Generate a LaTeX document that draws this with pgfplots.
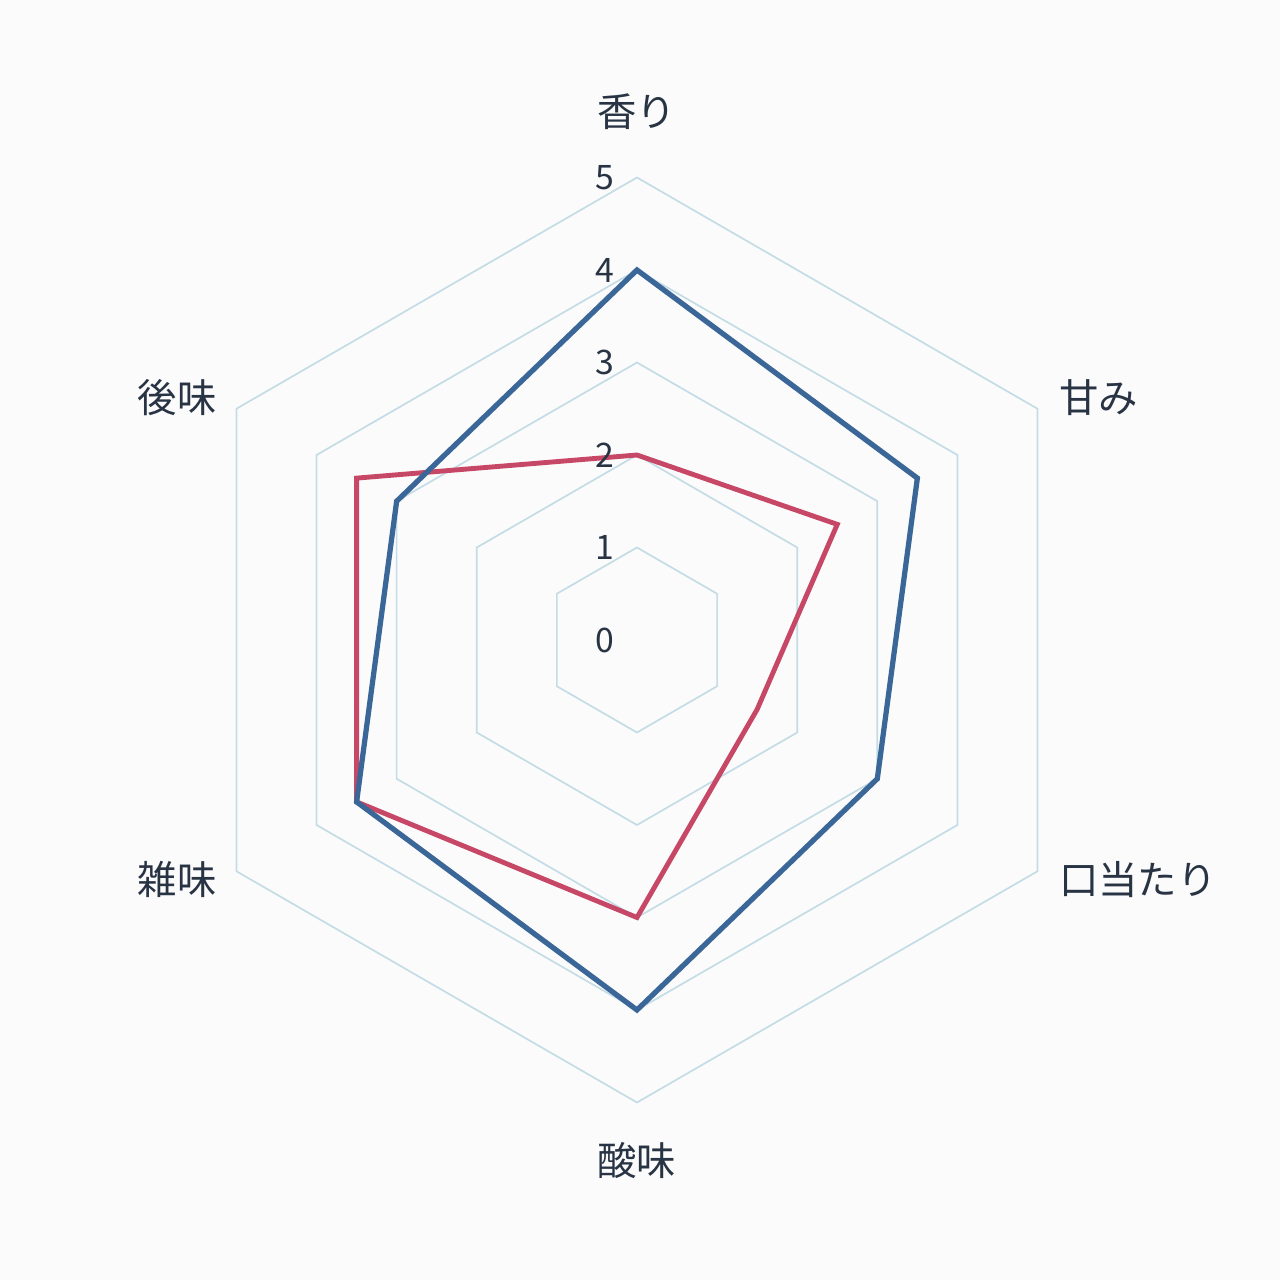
\documentclass[border=0pt]{standalone}
\usepackage{fontspec}
\usepackage{pgfplots}
\pgfplotsset{compat=1.18}
\newfontfamily\cjk{Noto Sans CJK JP}
\definecolor{gridc}{RGB}{196,220,229}
\definecolor{blueline}{RGB}{58,103,152}
\definecolor{redline}{RGB}{198,72,102}
\definecolor{txt}{RGB}{40,52,68}
\begin{document}
\begin{tikzpicture}
\begin{axis}[
    width=12cm, height=12cm, scale only axis,
    hide axis, clip=false,
    xmin=-6.886, xmax=6.951,
    ymin=-6.919, ymax=6.919,
]
% bounding frame, page background
\addplot[draw=none, fill=black!1.5] coordinates {(-6.886,-6.919) (6.951,-6.919) (6.951,6.919) (-6.886,6.919)} --cycle;
% hexagon grid, levels 1..5
\pgfplotsinvokeforeach{1,2,3,4,5}{
  \addplot[gridc, line width=0.45pt, data cs=polar, line join=miter]
    coordinates {(90,#1) (30,#1) (-30,#1) (-90,#1) (-150,#1) (150,#1)} --cycle;
}
% 香り, 甘み, 口当たり, 酸味, 雑味, 後味
\addplot[redline, line width=1.3pt, data cs=polar, line join=miter]
  coordinates {(90,2) (30,2.5) (-30,1.5) (-90,3) (-150,3.5) (150,3.5)} --cycle;
\addplot[blueline, line width=1.4pt, data cs=polar, line join=miter]
  coordinates {(90,4) (30,3.5) (-30,3) (-90,4) (-150,3.5) (150,3)} --cycle;
% level labels
\pgfplotsinvokeforeach{0,1,2,3,4,5}{
  \node[font=\cjk\fontsize{9}{10}\selectfont, text=txt] at (axis cs:-0.35,#1) {#1};
}
% category labels
\begin{scope}[every node/.style={font=\cjk\fontsize{10.5}{12}\selectfont, text=txt}]
\node at (axis cs:0,5.71) {香り};
\node[anchor=west] at (axis cs:4.42,2.62) {甘み};
\node[anchor=west] at (axis cs:4.42,-2.59) {口当たり};
\node at (axis cs:0,-5.63) {酸味};
\node[anchor=east] at (axis cs:-4.40,-2.59) {雑味};
\node[anchor=east] at (axis cs:-4.40,2.62) {後味};
\end{scope}
\end{axis}
\end{tikzpicture}
\end{document}
